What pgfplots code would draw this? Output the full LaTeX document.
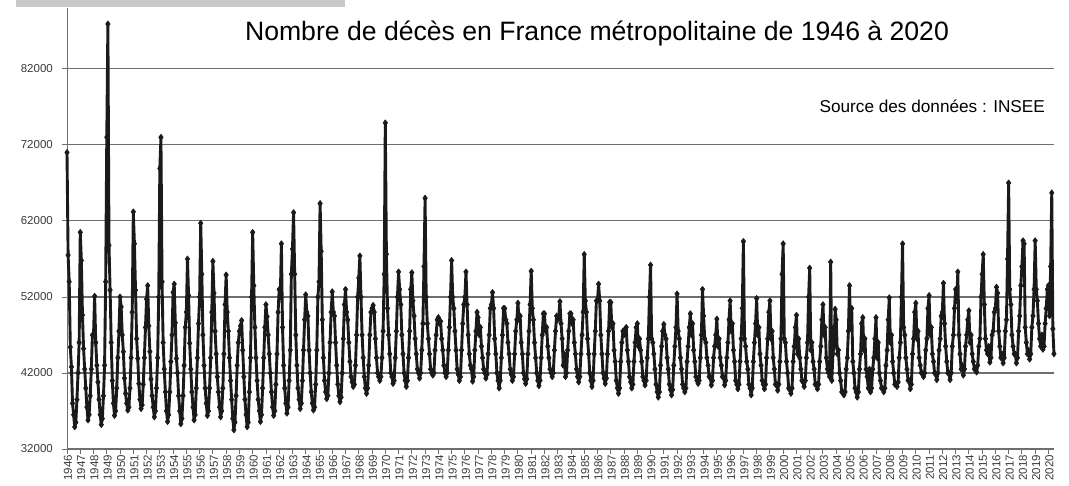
\documentclass[border=0pt]{standalone}
\usepackage{fontspec}
\setmainfont{Liberation Sans}
\usepackage{pgfplots}
\pgfplotsset{compat=1.18}
\definecolor{gridc}{HTML}{6E6E6E}
\definecolor{linec}{HTML}{1A1A1A}
\definecolor{barc}{HTML}{C8C8C8}
\definecolor{labc}{HTML}{3A3A3A}
\begin{document}
\begin{tikzpicture}
\useasboundingbox (-67pt,-37pt) rectangle (1002pt,449pt);
\begin{axis}[
  at={(0,0)}, anchor=south west,
  width=987pt, height=441pt, scale only axis,
  xmin=1946, xmax=2020.42, ymin=32000, ymax=90000,
  axis lines*=left,
  axis line style={gridc, line width=0.9pt},
  xtick={1946,...,2020},
  ytick={32000,42000,52000,62000,72000,82000},
  scaled y ticks=false,
  scaled x ticks=false,
  xticklabel={\pgfmathparse{round(\tick)}\pgfmathprintnumber[fixed,precision=0,1000 sep={}]{\pgfmathresult}},
  yticklabel={\pgfmathprintnumber[fixed,precision=0,1000 sep={}]{\tick}},
  ymajorgrids,
  grid style={gridc, line width=1.2pt},
  tick align=outside,
  major tick length=5pt,
  tick style={gridc, line width=0.8pt},
  /pgf/number format/.cd, 1000 sep={}, assume math mode=true,
  /pgfplots/.cd,
  ticklabel style={font=\fontsize{11.5}{12}\selectfont, text=labc},
  xticklabel style={rotate=90, anchor=east, inner sep=1pt, yshift=-1pt},
  yticklabel style={inner sep=1pt, xshift=-8pt},
  clip=false,
]
\addplot[color=linec, line width=2.9pt, line join=round, mark=diamond*, mark size=3pt, mark options={solid, fill=linec, line width=0.6pt}]
 table [x expr={1946+\coordindex/12}, y=d, row sep=\\] {
d\\
71000\\57500\\54000\\45400\\42800\\38000\\36500\\34900\\35500\\38500\\42000\\46000\\
60500\\56800\\49600\\45200\\42500\\40000\\37500\\35800\\36500\\39000\\42500\\47000\\
47000\\52100\\46000\\43000\\40800\\38500\\36500\\35200\\36000\\39000\\43000\\54000\\
73000\\87900\\58800\\52900\\46000\\41000\\38000\\36400\\37000\\40000\\44000\\47500\\
52000\\50700\\47000\\44800\\41300\\39300\\38000\\37100\\37500\\40000\\44000\\50000\\
63200\\59000\\52900\\46500\\43900\\40600\\38500\\37300\\37800\\40500\\44000\\48000\\
51700\\53500\\48200\\44800\\41200\\39000\\37500\\36200\\37000\\40000\\44000\\52000\\
68900\\73000\\54000\\46000\\42500\\39500\\37000\\35600\\36500\\39500\\43500\\47000\\
52600\\53700\\48600\\43900\\42000\\39000\\37000\\35300\\36000\\39000\\43000\\48000\\
50000\\57000\\52200\\45900\\42500\\39500\\37500\\35800\\36500\\40000\\44000\\48500\\
52000\\61700\\55000\\47000\\43000\\40000\\38000\\36400\\37000\\40000\\44000\\50000\\
56700\\52500\\47500\\44500\\41500\\39500\\37500\\36200\\37000\\40000\\44500\\51000\\
54900\\50000\\47500\\44000\\41000\\38500\\36000\\34500\\35500\\39000\\43000\\46000\\
47500\\48200\\48900\\45000\\41500\\38500\\36500\\34900\\35500\\39500\\44000\\52000\\
60500\\53500\\48000\\44000\\41000\\38500\\37000\\35600\\36500\\40000\\44000\\48000\\
51000\\49400\\47000\\44500\\42000\\39500\\37500\\36400\\37000\\40500\\44500\\50000\\
53000\\52000\\59000\\48000\\43000\\40000\\38000\\36700\\37500\\41000\\45000\\55000\\
58300\\63100\\55000\\47000\\43000\\40000\\38500\\37300\\38000\\41000\\45000\\49000\\
52300\\50000\\49500\\45000\\42000\\39500\\38000\\37100\\37500\\40500\\45000\\52000\\
54000\\64300\\58000\\49000\\44000\\41000\\39500\\38600\\39000\\42000\\46000\\50000\\
52700\\50000\\49500\\46000\\43000\\40500\\39000\\38200\\38800\\42000\\46500\\51000\\
53000\\50000\\49000\\46000\\43500\\41500\\40800\\40200\\40500\\43000\\47000\\52000\\
54500\\57400\\52000\\47000\\44000\\41500\\40000\\39300\\40000\\43000\\47000\\50000\\
50500\\50900\\50000\\46500\\44000\\42000\\41500\\41000\\41500\\44000\\47500\\55000\\
74900\\57600\\50500\\47000\\44500\\42000\\41500\\40600\\41000\\44000\\47500\\52000\\
55300\\53000\\51000\\47000\\44500\\42000\\41000\\40200\\41000\\44000\\47500\\53000\\
55200\\51500\\49500\\46500\\44500\\42500\\42000\\41300\\42000\\45000\\48500\\56000\\
65000\\52000\\48500\\46500\\44500\\42500\\42000\\41700\\42000\\45000\\47000\\49000\\
49300\\48500\\48800\\46500\\45000\\43000\\42000\\41500\\42000\\45000\\48000\\52000\\
56800\\52000\\50500\\47500\\45000\\42500\\41800\\41000\\41500\\45000\\48500\\51000\\
52000\\55300\\51000\\47000\\44500\\43000\\42500\\40900\\41500\\45000\\47500\\50000\\
49300\\47000\\48000\\45500\\44000\\42500\\42000\\41300\\41800\\44500\\47000\\50500\\
51000\\52600\\50500\\46500\\44500\\42000\\41000\\40000\\41000\\44000\\47000\\50500\\
50500\\49000\\48500\\46000\\44500\\42500\\41800\\41000\\41500\\44500\\47500\\49000\\
51200\\49000\\49500\\46000\\44500\\42000\\41200\\40600\\41200\\44500\\47500\\51000\\
55400\\50500\\49000\\46000\\44000\\42000\\41000\\40300\\41000\\44000\\47000\\49800\\
49800\\47500\\48000\\45500\\44000\\42500\\42000\\41500\\42000\\45000\\47500\\49500\\
49000\\49500\\51400\\48500\\46500\\43000\\44500\\41500\\42000\\45000\\47500\\49800\\
49800\\48500\\49000\\46000\\44500\\42500\\41500\\40800\\41500\\44500\\47000\\50000\\
57600\\51500\\50000\\46500\\44500\\42000\\41000\\40200\\41000\\44500\\47500\\51500\\
51500\\53700\\51500\\47000\\44500\\42000\\41300\\40600\\41300\\44500\\47500\\51300\\
51300\\48000\\48500\\45000\\43500\\41000\\40000\\39300\\40000\\43500\\46000\\47500\\
47000\\47800\\48000\\45000\\43500\\41500\\40800\\40000\\40500\\43500\\46000\\48000\\
48500\\45500\\46500\\45000\\43500\\41500\\41000\\40400\\41000\\44000\\46500\\52000\\
56200\\46500\\46000\\44500\\42500\\40500\\39500\\38800\\39500\\43000\\45500\\47500\\
48400\\47000\\46500\\44000\\42500\\40500\\39800\\39100\\39800\\43000\\45500\\48000\\
52400\\47500\\46500\\44000\\42500\\40500\\40000\\39500\\40000\\43500\\45500\\48000\\
49800\\47000\\48500\\45000\\43500\\41500\\41000\\40600\\41000\\44000\\47000\\53000\\
49500\\46500\\46000\\44000\\43000\\41500\\41500\\40400\\41000\\44000\\45500\\47000\\
49100\\45500\\46500\\44000\\43000\\41500\\41500\\40400\\41000\\44000\\46000\\49000\\
51500\\47500\\48500\\45000\\43500\\41000\\40500\\39900\\40500\\43500\\46500\\50500\\
59300\\46500\\45500\\43500\\42500\\40500\\40000\\39100\\40000\\43500\\46000\\48500\\
51800\\47000\\48000\\44500\\43000\\41000\\40500\\39900\\40500\\44000\\46500\\50000\\
51500\\46500\\47500\\44000\\42500\\40500\\40500\\39700\\40500\\43500\\46500\\55000\\
59000\\46500\\46000\\43500\\42000\\40000\\39800\\39300\\40000\\43500\\45500\\48000\\
49600\\44500\\46500\\44000\\42500\\41000\\40800\\40200\\41000\\44000\\46000\\52000\\
55800\\45000\\46000\\43500\\42500\\40500\\40500\\39900\\40500\\43500\\45500\\49000\\
51000\\47000\\48000\\44000\\42500\\42000\\41500\\56600\\41000\\44500\\45500\\50400\\
49000\\44500\\45000\\42000\\41000\\39500\\39500\\39100\\39500\\42500\\44000\\47500\\
53500\\48000\\50500\\43500\\42000\\40000\\39500\\38800\\39500\\42500\\44500\\48500\\
49300\\45000\\46500\\42500\\41500\\40000\\42500\\39500\\40000\\42500\\44000\\46500\\
49300\\44000\\46000\\42000\\41000\\40000\\40000\\39500\\40000\\43000\\45000\\49000\\
51900\\46000\\47000\\43500\\42000\\40500\\40500\\40200\\40800\\44000\\46000\\52000\\
59000\\48000\\47000\\44000\\42500\\41000\\41000\\39900\\40500\\44500\\46500\\50000\\
51200\\46500\\47500\\44000\\43000\\42000\\42000\\41500\\42000\\45000\\46500\\50500\\
52200\\47000\\48000\\44500\\43500\\42000\\41800\\41100\\42000\\45000\\46500\\49500\\
50000\\53800\\48500\\45500\\43500\\42000\\42000\\41100\\42000\\45500\\47000\\50500\\
53000\\51500\\55300\\47000\\44500\\42500\\43000\\41700\\42500\\45500\\47000\\49000\\
50200\\46000\\47000\\44500\\43500\\42500\\42500\\42100\\43000\\45500\\46500\\52000\\
55000\\57600\\51000\\46500\\45000\\44500\\45500\\43400\\44000\\47000\\47500\\50000\\
50500\\53300\\52500\\47500\\45500\\44000\\44500\\43300\\44000\\47500\\49000\\57000\\
67000\\53000\\51000\\47000\\45500\\44500\\44500\\43300\\44000\\47500\\49500\\53500\\
56000\\59400\\59000\\48000\\46000\\44500\\45000\\43800\\44500\\48000\\49500\\53000\\
59400\\53000\\51500\\48500\\46500\\45500\\47000\\45100\\45500\\48500\\50500\\53000\\
53500\\49500\\56000\\65700\\47800\\44500\\
};
\node[anchor=base, inner sep=0pt, font=\fontsize{26.6}{30}\selectfont] at (rel axis cs:0.537,0.927) {Nombre de décès en France métropolitaine de 1946 à 2020};
\node[anchor=base east, inner sep=0pt, font=\fontsize{17.2}{20}\selectfont] at (rel axis cs:0.991,0.764) {Source des données : INSEE};
\end{axis}
\fill[barc] (-51pt,442pt) rectangle (278pt,449pt);
\end{tikzpicture}
\end{document}
